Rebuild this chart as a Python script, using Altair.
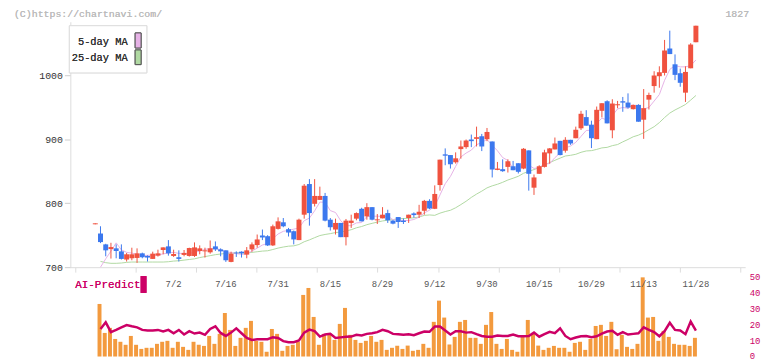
import altair as alt
import pandas as pd

# ---------------- data ----------------
opens = [767, 752.6, 735.6, 728.3, 729.4, 724.7, 711.9, 713.9, 714.4, 721.6,
         717.5, 712.9, 718, 726.8, 732.5, 717.5, 715.5, 719.1, 717.5, 717.5,
         725.3, 724.7, 723.2, 732.5, 727.8, 726.3, 708.2, 722.7, 724.2, 719.6,
         727.8, 734.5, 749.5, 748.4, 734, 759.8, 770.1, 759.3, 756.2, 742.3,
         782, 829.9, 799, 805.1, 811.3, 774.2, 758.8, 769.1, 746.9, 769.1,
         775.8, 791.2, 779.4, 793.8, 773.2, 776.3, 784.5, 772.7, 778.3, 772.7,
         776.8, 784, 782, 788.1, 803.6, 791.2, 828.3, 876.3, 875.2, 863.9,
         884.5, 887.6, 899.5, 900.5, 904.6, 900, 896.4, 852, 853.1, 856.7,
         857.7, 862.4, 854.1, 882.5, 824.2, 845.9, 856.7, 877.8, 884, 897.4,
         882, 899, 901.5, 917, 934.5, 922.7, 900, 944.3, 959.3, 913.9,
         953, 959.3, 957.2, 946.9, 953.6, 930.4, 961.8, 983, 998.4, 1003.6,
         1041.7, 1017, 1003.1, 972.7, 1010.8, 1051.5]
highs = [768.5, 763.9, 736.5, 738.1, 735.6, 735.6, 722.2, 730.4, 729.4, 722.7,
         718.5, 724.2, 727.3, 730.9, 742.3, 727.3, 726.3, 726.8, 730.4, 738.7,
         734, 730.4, 741.7, 740.2, 729.4, 726.3, 724.2, 724.7, 724.7, 731.4,
         738.7, 751, 758.8, 750, 766.5, 777.8, 776.8, 761.3, 757.2, 775.8,
         829.9, 837.6, 837.6, 825.8, 816, 776.8, 775.8, 769.1, 775.3, 782,
         785.6, 792.8, 800, 793.8, 783, 793.8, 789.7, 773.7, 778.3, 776.3,
         782, 785.6, 797.4, 805.1, 806.2, 827.8, 868, 885.6, 875.2, 879.4,
         897.9, 899.5, 907.2, 919.6, 908.2, 917.5, 896.4, 864.4, 868.5, 868.5,
         866, 862.4, 886.1, 882.5, 844.8, 859.3, 883.5, 886.1, 902.6, 897.4,
         903.1, 899, 919.6, 944.3, 945.3, 928.9, 951, 956.2, 960.8, 962.4,
         959.8, 966, 971.6, 953.6, 954.6, 978.3, 972.7, 1006.2, 1013.9, 1055.1,
         1069.6, 1032.5, 1010.3, 1013.9, 1050, 1077.3]
lows = [767, 737.6, 717, 713.4, 713.9, 711.9, 708.8, 710.8, 706.7, 713.9,
        708.8, 712.9, 716.5, 720.1, 718, 716, 708.8, 717, 716.5, 716,
        720.1, 715, 721.1, 725.3, 717, 708.2, 707.7, 716, 715, 713.9,
        724.2, 730.4, 742.3, 733, 733, 758.8, 762.4, 747.9, 735.6, 742.3,
        775.8, 764.9, 794.8, 805.1, 771.6, 757.2, 751, 746.9, 734, 761.3,
        773.2, 771.6, 774.2, 773.2, 767.5, 776.3, 769.1, 767, 761.3, 767.5,
        769.1, 777.3, 776.8, 782, 790.7, 790.7, 819.6, 859.3, 854.1, 861.8,
        869.6, 885, 887.6, 888.6, 881.4, 896.9, 840.2, 851.5, 849, 847.9,
        851.5, 846.4, 853.1, 819.6, 812.9, 845.9, 855.7, 861.8, 884, 874.7,
        878.9, 891.2, 901.5, 914.4, 921.1, 886.1, 900, 934, 924.7, 901.5,
        948.4, 942.8, 947.9, 946.4, 927.3, 900.5, 946.4, 972.7, 980.4, 999.5,
        1033, 992.3, 981.9, 958.2, 1010.8, 1051.5]
closes = [768.5, 739.2, 726.3, 731.4, 725.3, 712.9, 720.1, 720.1, 721.6, 715.5,
          715, 721.1, 721.6, 730.9, 721.6, 720.6, 712.9, 722.2, 729.9, 730.9,
          729.4, 726.3, 729.4, 727.8, 724.7, 710.8, 721.1, 721.6, 721.6, 726.3,
          735.6, 743.3, 746.4, 734, 763.9, 771.6, 763.9, 754.1, 743.3, 774.2,
          827.3, 784.5, 811.3, 811.3, 772.7, 762.4, 769.1, 746.9, 772.7, 772.7,
          784.5, 771.6, 793.8, 774.2, 774.7, 782, 773.2, 768, 770.6, 770.6,
          782, 781.4, 786.6, 803.6, 791.7, 814.4, 868, 874.2, 860.8, 870.1,
          888.6, 897.9, 896.9, 903.1, 888.6, 911.3, 852.6, 854.1, 850, 865.5,
          851.5, 849, 885, 845.9, 840.2, 857.7, 879.4, 885.6, 893.3, 875.2,
          899, 893.3, 914.9, 939.7, 921.1, 901.5, 945.9, 956.2, 924.7, 955.7,
          954.6, 957.2, 949.5, 953.6, 927.3, 948.4, 969.1, 999.5, 1004.6, 1038.6,
          1033, 1000.5, 988.1, 1005.1, 1047.9, 1077.3]
ma5 = [None, 700, 713, 725, 738, 727.0, 723.2, 722.0, 720.0, 718.0,
       718.5, 718.7, 719.0, 720.8, 722.0, 723.2, 721.5, 721.6, 721.4, 723.3,
       725.1, 727.7, 729.2, 728.8, 727.5, 723.8, 722.8, 721.2, 720.0, 720.3,
       725.2, 729.7, 734.6, 737.1, 744.6, 751.8, 756.0, 757.5, 759.4, 761.4,
       772.6, 776.7, 788.1, 801.7, 801.4, 788.4, 785.4, 772.5, 764.8, 764.8,
       769.2, 769.7, 779.1, 779.4, 779.7, 779.2, 779.5, 774.3, 773.6, 772.9,
       772.9, 774.5, 778.2, 784.8, 789.1, 795.5, 812.9, 830.4, 841.8, 857.5,
       872.3, 878.3, 882.9, 891.3, 895.0, 899.6, 890.5, 881.9, 871.3, 866.7,
       854.7, 854.0, 860.2, 859.4, 854.3, 855.6, 861.6, 861.8, 871.2, 878.2,
       886.5, 889.3, 895.1, 904.4, 913.6, 914.1, 924.6, 932.9, 929.9, 936.8,
       947.3, 949.6, 948.2, 954.0, 948.3, 947.2, 949.6, 959.6, 969.8, 992.0,
       1009.0, 1015.2, 1013.0, 1013.1, 1014.9, 1023.8]
ma25 = [None, 709, 707, 706, 706, 706.5, 707.5, 708, 708, 708,
        708, 708, 708, 708, 708.5, 709.5, 710, 711, 712, 713,
        715, 716.5, 718, 719.5, 720.5, 721.5, 722, 722.3, 722.2, 722.2,
        723.1, 724.1, 725.1, 725.6, 727.6, 729.8, 731.5, 732.8, 733.3, 735.4,
        739.7, 742.6, 746.1, 749.4, 751.1, 752.4, 754.1, 754.8, 756.6, 758.5,
        761.5, 763.5, 766.4, 768.5, 770.4, 772.2, 773.4, 774.3, 775.8, 776.0,
        776.4, 777.1, 778.4, 780.9, 781.6, 781.0, 784.4, 786.9, 788.9, 792.8,
        797.8, 803.0, 809.0, 814.2, 818.8, 823.9, 827.1, 829.5, 832.6, 836.2,
        839.0, 842.0, 846.7, 849.7, 852.5, 855.5, 859.5, 863.4, 867.0, 870.4,
        873.7, 874.8, 876.4, 879.5, 881.6, 882.1, 884.0, 886.4, 887.2, 889.9,
        891.6, 895.8, 899.6, 903.8, 906.3, 910.1, 914.9, 919.5, 925.9, 933.8,
        940.8, 945.7, 949.8, 954.2, 961.1, 968.3]
volume = [None, 33.2, 14.9, 18.1, 11.1, 9.3, 7.4, 13.0, 7.4, 4.8,
          5.5, 5.5, 8.0, 9.3, 9.9, 5.5, 9.3, 6.1, 4.2, 9.3,
          7.4, 6.7, 13.0, 8.0, 14.3, 27.5, 16.8, 6.7, 11.8, 18.1,
          22.5, 9.9, 9.3, 3.0, 17.4, 14.3, 3.6, 6.7, 7.4, 9.3,
          38.9, 43.3, 25.0, 7.4, 14.3, 14.9, 10.5, 20.6, 30.7, 13.7,
          10.5, 8.6, 9.9, 13.0, 9.3, 10.5, 4.2, 5.5, 6.8, 4.8,
          6.9, 3.6, 4.2, 8.0, 5.5, 21.9, 35.3, 24.6, 7.6, 12.4,
          21.9, 23.1, 11.8, 11.8, 8.0, 20.0, 28.1, 8.0, 4.8, 11.1,
          4.2, 3.0, 12.4, 23.1, 14.9, 6.9, 4.2, 5.5, 6.7, 5.5,
          5.5, 3.0, 8.6, 9.3, 4.2, 11.1, 19.3, 20.0, 13.0, 21.9,
          4.6, 13.7, 6.1, 4.8, 8.0, 50.0, 24.6, 25.0, 9.9, 16.2,
          12.4, 8.0, 7.4, 7.4, 6.7, 11.8]
ai_predict = [None, 17.4, 21.6, 15.4, 16.8, 18.4, 19.9, 19.1, 18.4, 16.8,
              16.4, 16.4, 16.8, 15.8, 16.8, 14.7, 16.8, 13.9, 16.0, 14.5,
              15.1, 13.7, 17.4, 19.1, 14.9, 13.0, 15.1, 17.8, 14.7, 11.7,
              10.5, 10.9, 10.9, 10.9, 12.2, 11.7, 9.7, 9.0, 9.0, 10.1,
              15.1, 17.0, 16.0, 12.6, 13.9, 14.3, 11.7, 12.1, 12.5, 12.6,
              13.7, 13.3, 14.3, 14.7, 15.4, 16.8, 16.0, 14.3, 14.1, 13.7,
              14.1, 13.5, 14.7, 15.8, 15.6, 18.9, 18.9, 16.4, 13.9, 16.0,
              16.0, 15.1, 15.4, 14.1, 13.0, 12.5, 12.5, 13.3, 13.0, 13.0,
              13.9, 12.8, 12.8, 13.0, 15.1, 12.5, 14.1, 15.6, 14.7, 17.8,
              13.0, 10.9, 12.0, 12.8, 13.0, 12.2, 12.8, 14.5, 15.8, 16.2,
              13.7, 15.4, 13.9, 14.3, 14.7, 18.4, 16.8, 15.4, 12.8, 16.0,
              21.3, 16.8, 16.4, 14.1, 22.1, 16.4]
date_idx = [15, 25, 35, 45, 55, 65, 75, 85, 95, 105, 115]
date_labels = ["7/2", "7/16", "7/31", "8/15", "8/29", "9/12", "9/30",
               "10/15", "10/29", "11/13", "11/28"]
legend_names = ["5-day MA", "25-day MA"]
price_ticks = [700, 800, 900, 1000]
vol_ticks = [0, 10, 20, 30, 40, 50]

# ---------------- styles ----------------
RED = "#f0523f"
BLUE = "#3c78ee"
PINK = "#e6b2e6"
GREEN = "#b0d9a2"
ORANGE = "#f39a3e"
CRIMSON = "#cc0066"
MONO = "Liberation Mono"

W, H = 682, 340
X0, X1 = -3.827, 123.49
tick_vals = [X0 + k * (X1 - X0) / 11 for k in range(12)]
tick_vals[-1] = X1 - 1e-6

df = pd.DataFrame({
    "idx": list(range(len(opens))), "open": opens, "high": highs,
    "low": lows, "close": closes, "ma5": ma5, "ma25": ma25,
    "vol": volume, "ai": ai_predict,
})
dates = pd.DataFrame({"idx": date_idx, "lbl": date_labels})

xscale = alt.Scale(domain=[X0, X1], nice=False, zero=False)
xaxis = alt.Axis(values=tick_vals, labels=False, ticks=True, tickSize=5,
                 tickColor="#dddddd", domainColor="#dddddd", grid=False,
                 title=None, offset=-(H - 248))
X = alt.X("idx:Q", scale=xscale, axis=xaxis)

ytop_scale = alt.Scale(domain=[700, 1083.5], range=[248, 0], nice=False, zero=False)
ytop_axis = alt.Axis(values=price_ticks, orient="left", grid=False, title=None,
                     format="d", domainColor="#dddddd", tickColor="#cccccc",
                     tickSize=6, labelFont=MONO, labelFontSize=10,
                     labelColor="#333333", labelPadding=2)
ybot_scale = alt.Scale(domain=[0, 50], range=[338.3, 258.3], nice=False)
ybot_axis = alt.Axis(values=vol_ticks, orient="right", grid=False, title=None,
                     domain=False, ticks=False, labelFont=MONO, labelFontSize=9,
                     labelColor=CRIMSON, labelPadding=4, labelFlush=False,
                     labelOverlap=False, labelOffset=-0.6)

updown = alt.condition("datum.close >= datum.open", alt.value(RED), alt.value(BLUE))

base = alt.Chart(df)
wicks = base.mark_rule(strokeWidth=1).encode(
    x=X, y=alt.Y("low:Q", scale=ytop_scale, axis=ytop_axis), y2="high:Q", color=updown)
bodies = base.mark_bar(size=5).encode(
    x=X, y=alt.Y("open:Q", scale=ytop_scale, axis=ytop_axis), y2="close:Q", color=updown)
line5 = base.mark_line(color=PINK, strokeWidth=1).encode(
    x=X, y=alt.Y("ma5:Q", scale=ytop_scale, axis=ytop_axis))
line25 = base.mark_line(color=GREEN, strokeWidth=1).encode(
    x=X, y=alt.Y("ma25:Q", scale=ytop_scale, axis=ytop_axis))
top = alt.layer(line25, line5, wicks, bodies)

vbars = base.mark_bar(size=4, color=ORANGE, xOffset=-1).encode(
    x=X, y=alt.Y("vol:Q", scale=ybot_scale, axis=ybot_axis))
ailine = base.mark_line(color=CRIMSON, strokeWidth=2.5).encode(
    x=X, y=alt.Y("ai:Q", scale=ybot_scale, axis=ybot_axis))
bottom = alt.layer(vbars, ailine)

date_text = alt.Chart(dates).mark_text(font=MONO, fontSize=9, color="#555555",
                                       baseline="middle", align="center").encode(
    x=X, y=alt.value(265), text="lbl:N")

one = alt.Chart(pd.DataFrame({"name": legend_names}))
leg_box = one.mark_rect(fill="white", stroke="#dddddd", strokeWidth=1).encode(
    x=alt.value(-1), x2=alt.value(77.3), y=alt.value(4), y2=alt.value(51.7))
leg_t1 = one.mark_text(font=MONO, fontSize=10.5, color="#333333", align="right",
                       baseline="middle", text=legend_names[0]).encode(
    x=alt.value(58), y=alt.value(20.3))
leg_t2 = one.mark_text(font=MONO, fontSize=10.5, color="#333333", align="right",
                       baseline="middle", text=legend_names[1]).encode(
    x=alt.value(58), y=alt.value(36.7))
leg_s1 = one.mark_rect(fill=PINK, stroke="#555555", strokeWidth=1).encode(
    x=alt.value(65.5), x2=alt.value(71.5), y=alt.value(11.3), y2=alt.value(26.5))
leg_s2 = one.mark_rect(fill=GREEN, stroke="#555555", strokeWidth=1).encode(
    x=alt.value(65.5), x2=alt.value(71.5), y=alt.value(28.5), y2=alt.value(43.3))

ai_lbl = one.mark_text(font=MONO, fontSize=11, color=CRIMSON, align="left",
                       baseline="middle", text="AI-Predict").encode(
    x=alt.value(5), y=alt.value(266))
ai_sw = one.mark_rect(fill=CRIMSON).encode(
    x=alt.value(71), x2=alt.value(77), y=alt.value(257), y2=alt.value(274))

copy_t = one.mark_text(font=MONO, fontSize=10, color="#bbbbbb", align="left",
                       baseline="middle", text="(C)https://chartnavi.com/").encode(
    x=alt.value(-57), y=alt.value(-8))
code_t = one.mark_text(font=MONO, fontSize=10, color="#bbbbbb", align="right",
                       baseline="middle", text="1827").encode(
    x=alt.value(686), y=alt.value(-8))

chart = alt.layer(
    top, bottom, date_text, leg_box, leg_t1, leg_t2, leg_s1, leg_s2,
    ai_lbl, ai_sw, copy_t, code_t,
).resolve_scale(y="independent").properties(
    width=W, height=H, autosize="none",
    padding={"left": 63, "top": 12, "right": 19, "bottom": 8},
    background="white",
).configure_view(stroke=None)

chart.save("out.html", embed_options={"renderer": "svg", "actions": False})
